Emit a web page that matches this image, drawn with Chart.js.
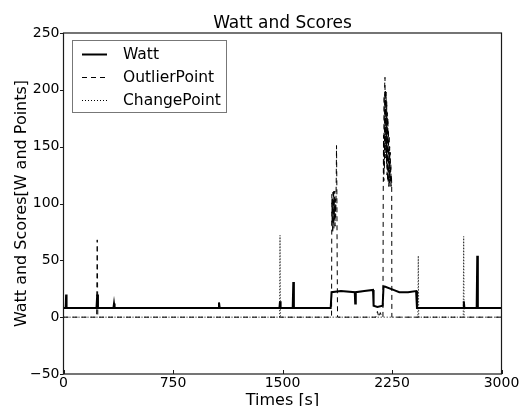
<!DOCTYPE html>
<html><head><meta charset="utf-8">
<script src="https://cdn.jsdelivr.net/npm/chart.js@4/dist/chart.umd.min.js"></script>
<style>html,body{margin:0;padding:0;background:#fff}#c{display:block}</style>
</head><body>
<div style="width:528px;height:406px"><canvas id="c" width="528" height="406"></canvas></div>
<script>
const title = "Watt and Scores";
const xLabel = "Times [s]";
const yLabel = "Watt and Scores[W and Points]";
const seriesNames = ["Watt", "OutlierPoint", "ChangePoint"];
const xTicks = [0, 750, 1500, 2250, 3000];
const yTicks = [-50, 0, 50, 100, 150, 200, 250];

const wattT = [0, 15, 18, 21, 226, 231, 236, 342, 346, 350, 1060, 1065, 1070, 1479, 1483, 1487, 1570, 1574, 1578, 1830, 1836, 1900, 1995, 1998, 2002, 2060, 2120, 2124, 2150, 2186, 2192, 2200, 2260, 2300, 2360, 2415, 2421, 2600, 2738, 2742, 2746, 2830, 2834, 2838, 3000];
const wattV = [8, 8, 20, 8, 8, 20, 8, 8, 12, 8, 8, 13, 8, 8, 14, 8, 8, 31, 8, 8, 22, 23, 22, 12, 22, 23, 24, 10, 9, 10, 27, 27, 24, 22, 22, 23, 8, 8, 8, 14, 8, 8, 54, 8, 8];

const outT = [0, 227, 231, 235, 1836, 1838, 1840, 1842, 1844, 1846, 1848, 1850, 1852, 1854, 1856, 1858, 1860, 1862, 1864, 1866, 1868, 1870, 1872, 1874, 1877,
  2140, 2150, 2160, 2170, 2180, 2188, 2190, 2192, 2194, 2196, 2198, 2200, 2202, 2204, 2206, 2208, 2210, 2212, 2214, 2216, 2218, 2220, 2222, 2224, 2226, 2228, 2230, 2232, 2234, 2236, 2238, 2240, 2242, 2244, 2246, 2248, 2249, 3000];
const outV = [0, 0, 68, 0, 0, 108, 80, 104, 74, 110, 82, 112, 78, 106, 86, 111, 80, 104, 88, 100, 120, 151, 120, 60, 0,
  0, 5, 0, 4, 0, 0, 110, 160, 120, 195, 130, 205, 211, 140, 200, 150, 198, 135, 190, 125, 180, 120, 175, 118, 165, 115, 160, 118, 150, 115, 145, 118, 135, 115, 125, 117, 0, 0];

const cpT = [0, 1480, 1483, 1486, 2427, 2430, 2433, 2738, 2741, 2744, 3000];
const cpV = [0, 0, 72, 0, 0, 54, 0, 0, 71, 0, 0];

const toXY = (t, v) => t.map((x, i) => ({x: x, y: v[i]}));
const FONT = "'DejaVu Sans', sans-serif";

const decor = {
  id: 'decor',
  afterDraw(chart) {
    const ctx = chart.ctx, a = chart.chartArea;
    const xs = chart.scales.x, ys = chart.scales.y;
    ctx.save();
    ctx.strokeStyle = '#1a1a1a';
    ctx.lineWidth = 1.2;
    ctx.strokeRect(a.left, a.top, a.right - a.left, a.bottom - a.top);
    ctx.lineWidth = 1;
    ctx.beginPath();
    xs.ticks.forEach(t => { const p = Math.round(xs.getPixelForValue(t.value)) + 0.5; ctx.moveTo(p, a.bottom); ctx.lineTo(p, a.bottom - 4); });
    ys.ticks.forEach(t => { const p = Math.round(ys.getPixelForValue(t.value)) + 0.5; ctx.moveTo(a.left, p); ctx.lineTo(a.left - 3.5, p); });
    ctx.stroke();
    ctx.fillStyle = '#000';
    ctx.textAlign = 'center';
    ctx.textBaseline = 'alphabetic';
    ctx.font = '17px ' + FONT;
    ctx.fillText(title, (a.left + a.right) / 2, 28);
    ctx.font = '16px ' + FONT;
    ctx.fillText(xLabel, (a.left + a.right) / 2, 405);
    ctx.save();
    ctx.translate(26, (a.top + a.bottom) / 2);
    ctx.rotate(-Math.PI / 2);
    ctx.fillText(yLabel, 0, 0);
    ctx.restore();
    const lx = 72.5, ly = 40.5, lw = 154, lh = 72;
    ctx.fillStyle = '#fff';
    ctx.fillRect(lx, ly, lw, lh);
    ctx.strokeStyle = '#777';
    ctx.lineWidth = 1;
    ctx.strokeRect(lx, ly, lw, lh);
    const rows = [54, 77, 100];
    const dashes = [[], [5, 4], [1, 2]];
    const widths = [2, 1, 1];
    ctx.font = '15.5px ' + FONT;
    ctx.textAlign = 'left';
    ctx.textBaseline = 'middle';
    rows.forEach((y, i) => {
      ctx.strokeStyle = '#000';
      ctx.lineWidth = widths[i];
      ctx.setLineDash(dashes[i]);
      ctx.beginPath();
      ctx.moveTo(82, y + 0.5); ctx.lineTo(107, y + 0.5);
      ctx.stroke();
      ctx.setLineDash([]);
      ctx.fillStyle = '#000';
      ctx.fillText(seriesNames[i], 123, y + 1);
    });
    ctx.restore();
  }
};

const tickFmt = v => String(v).replace('-', '\u2212');

new Chart(document.getElementById('c'), {
  type: 'line',
  data: {
    datasets: [
      { label: seriesNames[0], data: toXY(wattT, wattV), borderColor: '#000', borderWidth: 2, pointRadius: 0, tension: 0, fill: false, order: 3 },
      { label: seriesNames[1], data: toXY(outT, outV), borderColor: '#000', borderWidth: 1, borderDash: [5, 4], pointRadius: 0, tension: 0, fill: false, order: 2 },
      { label: seriesNames[2], data: toXY(cpT, cpV), borderColor: '#000', borderWidth: 1, borderDash: [1, 2], pointRadius: 0, tension: 0, fill: false, order: 1 }
    ]
  },
  options: {
    responsive: false,
    animation: false,
    events: [],
    layout: { padding: { top: 33, right: 26.5, bottom: 0, left: 0 } },
    plugins: { legend: { display: false }, tooltip: { enabled: false }, title: { display: false } },
    scales: {
      x: {
        type: 'linear', min: 0, max: 3000,
        afterBuildTicks: s => { s.ticks = xTicks.map(v => ({value: v})); },
        afterFit: s => { s.height = 32; },
        grid: { display: false, drawTicks: false },
        border: { display: false },
        ticks: { color: '#000', font: { family: FONT, size: 14 }, padding: 1, maxRotation: 0, autoSkip: false, callback: tickFmt }
      },
      y: {
        type: 'linear', min: -50, max: 250,
        afterBuildTicks: s => { s.ticks = yTicks.map(v => ({value: v})); },
        afterFit: s => { s.width = 63.5; },
        grid: { display: false, drawTicks: false },
        border: { display: false },
        ticks: { color: '#000', font: { family: FONT, size: 14 }, padding: 4, autoSkip: false, callback: tickFmt }
      }
    }
  },
  plugins: [decor]
});
</script>
</body></html>
